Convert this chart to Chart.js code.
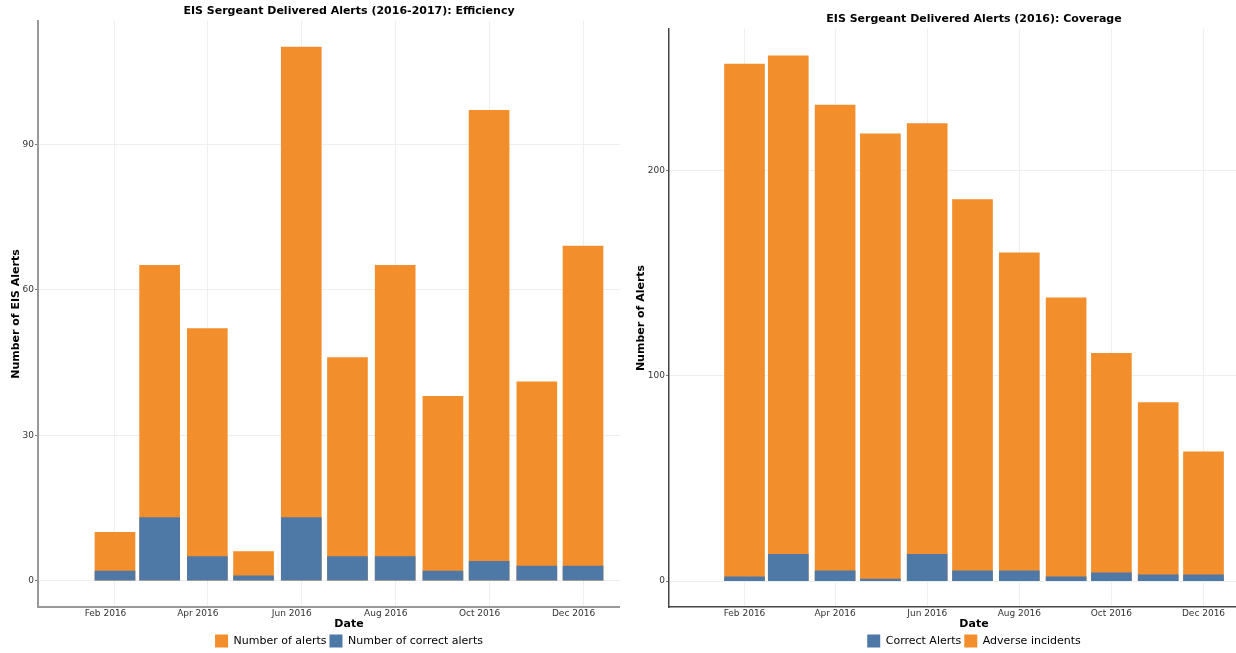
<!DOCTYPE html>
<html>
<head>
<meta charset="utf-8">
<title>EIS Sergeant Delivered Alerts</title>
<script src="https://cdn.jsdelivr.net/npm/chart.js@4.4.1/dist/chart.umd.min.js"></script>
<style>
  html, body { margin: 0; padding: 0; background: #fff; }
  #wrap { position: relative; width: 1236px; height: 653px; overflow: hidden; background: #fff; }
  #effBox { position: absolute; left: 0; top: 0; width: 660px; height: 653px; }
  #covBox { position: absolute; left: 620px; top: 0; width: 659px; height: 653px; background: #fff; }
</style>
</head>
<body>
<div id="wrap">
  <div id="effBox"><canvas id="effChart"></canvas></div>
  <div id="covBox"><canvas id="covChart"></canvas></div>
</div>
<script>
// Monthly delivery dates (start of each month)
const months = ['2016-02-01', '2016-03-01', '2016-04-01', '2016-05-01', '2016-06-01', '2016-07-01',
                '2016-08-01', '2016-09-01', '2016-10-01', '2016-11-01', '2016-12-01'];

// Efficiency panel
const alertCounts   = [10, 65, 52, 6, 110, 46, 65, 38, 97, 41, 69];
const correctAlerts = [2, 13, 5, 1, 13, 5, 5, 2, 4, 3, 3];

// Coverage panel
const adverseIncidents = [252, 256, 232, 218, 223, 186, 160, 138, 111, 87, 63];

// Axis ticks
const dateTicks = ['2016-02-01', '2016-04-01', '2016-06-01', '2016-08-01', '2016-10-01', '2016-12-01'];
const effTicks = [0, 30, 60, 90];
const covTicks = [0, 100, 200];

const MONTH_NAMES = ['Jan', 'Feb', 'Mar', 'Apr', 'May', 'Jun', 'Jul', 'Aug', 'Sep', 'Oct', 'Nov', 'Dec'];
const ORANGE = '#f28e2b';
const BLUE = '#4e79a7';
const FONT = 'DejaVu Sans';

// Day of 2016 for a yyyy-mm-dd string
function dayOf(s) {
  const [y, m, d] = s.split('-').map(Number);
  return (Date.UTC(y, m - 1, d) - Date.UTC(2016, 0, 1)) / 86400000;
}
const tickLabelByDay = {};
dateTicks.forEach(s => {
  const [y, m] = s.split('-').map(Number);
  tickLabelByDay[dayOf(s)] = MONTH_NAMES[m - 1] + ' ' + y;
});
const points = vals => months.map((m, i) => ({ x: dayOf(m), y: vals[i] }));

function xScale(borderColor, borderWidth, labelOffset) {
  return {
    type: 'linear',
    min: -19,
    max: 385,
    offset: false,
    afterBuildTicks: s => { s.ticks = dateTicks.map(d => ({ value: dayOf(d) })); },
    afterFit: s => { s.height = 24.5; },
    ticks: {
      autoSkip: false, maxRotation: 0, padding: 1, labelOffset: labelOffset,
      color: '#333', font: { family: FONT, size: 9 },
      callback: v => tickLabelByDay[v] || ''
    },
    grid: { color: '#efefef', lineWidth: 1, drawTicks: false, offset: false },
    border: { color: borderColor, width: borderWidth },
    title: {
      display: true, text: 'Date', color: '#000',
      font: { family: FONT, size: 11, weight: 'bold' },
      padding: { top: 0, bottom: 1 }
    }
  };
}

function yScale(min, max, ticks, title, width, titlePad, borderColor, borderWidth) {
  return {
    min: min,
    max: max,
    afterBuildTicks: s => { s.ticks = ticks.map(v => ({ value: v })); },
    afterFit: s => { s.width = width; },
    ticks: { padding: 1, color: '#333', font: { family: FONT, size: 9 } },
    grid: { color: '#efefef', lineWidth: 1, tickLength: 3, tickColor: '#777' },
    border: { color: borderColor, width: borderWidth },
    title: {
      display: true, text: title, color: '#000',
      font: { family: FONT, size: 11, weight: 'bold' },
      padding: { top: titlePad, bottom: 0 }
    }
  };
}

function plugins(titleText, titleTop) {
  return {
    title: {
      display: true, text: titleText, color: '#000', fullSize: false,
      font: { family: FONT, size: 11, weight: 'bold' },
      padding: { top: titleTop, bottom: 3.4 }
    },
    legend: {
      position: 'bottom', fullSize: false,
      labels: {
        boxWidth: 13, boxHeight: 13, padding: 3, color: '#000',
        font: { family: FONT, size: 11 },
        sort: (a, b) => a.datasetIndex - b.datasetIndex
      }
    },
    tooltip: { enabled: false }
  };
}

const barBase = { grouped: false, barThickness: 40, borderWidth: 0 };

new Chart(document.getElementById('effChart'), {
  type: 'bar',
  data: {
    datasets: [
      Object.assign({ label: 'Number of alerts', data: points(alertCounts), backgroundColor: ORANGE, order: 2 }, barBase),
      Object.assign({ label: 'Number of correct alerts', data: points(correctAlerts), backgroundColor: BLUE, order: 1 }, barBase)
    ]
  },
  options: {
    responsive: true, maintainAspectRatio: false, animation: false,
    layout: { padding: { left: 0, right: 0, top: 0, bottom: -4.5 } },
    scales: {
      x: xScale('#999', 2, -9.5),
      y: yScale(-5.42, 115.4, effTicks, 'Number of EIS Alerts', 38, 9.4, '#999', 2)
    },
    plugins: plugins('EIS Sergeant Delivered Alerts (2016-2017): Efficiency', 4.4)
  }
});

new Chart(document.getElementById('covChart'), {
  type: 'bar',
  data: {
    datasets: [
      Object.assign({ label: 'Correct Alerts', data: points(correctAlerts), backgroundColor: BLUE, order: 1 }, barBase),
      Object.assign({ label: 'Adverse incidents', data: points(adverseIncidents), backgroundColor: ORANGE, order: 2 }, barBase)
    ]
  },
  options: {
    responsive: true, maintainAspectRatio: false, animation: false,
    layout: { padding: { left: 0, right: 0, top: 0, bottom: -4.5 } },
    scales: {
      x: xScale('#444', 1.5, 0),
      y: yScale(-12.65, 269.1, covTicks, 'Number of Alerts', 49, 14.4, '#444', 1.5)
    },
    plugins: plugins('EIS Sergeant Delivered Alerts (2016): Coverage', 12.4)
  }
});
</script>
</body>
</html>
